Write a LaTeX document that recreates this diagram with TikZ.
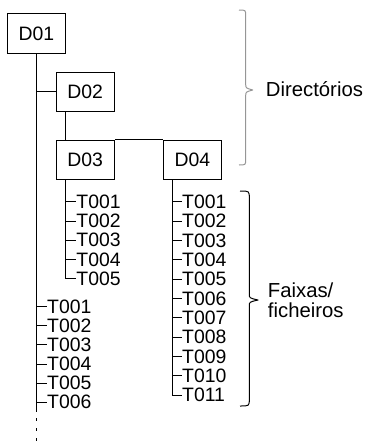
\documentclass[tikz,border=0pt]{standalone}
\usepackage{fontspec}
\setmainfont{Liberation Sans}
\begin{document}
\begin{tikzpicture}[x=1pt,y=-1pt, line width=0.9pt,
  txt/.style={font=\fontsize{19.4}{20}\selectfont},
  dirbox/.style={draw, txt, minimum width=58.5pt, minimum height=39.5pt, inner sep=0pt},
  item/.style={txt, anchor=west, inner sep=0pt},
  lbl/.style={font=\fontsize{20.3}{21}\selectfont, anchor=base west, inner sep=0pt},
  brace/.style={line width=1pt, line join=round}]
\useasboundingbox (0,0) rectangle (368,448);

\node[dirbox] (D01) at (36.5,33.5) {D01};
\node[dirbox] (D02) at (85.2,91.8) {D02};
\node[dirbox] (D03) at (85.2,160) {D03};
\node[dirbox] (D04) at (192.3,160) {D04};

% trunk of D01
\coordinate (trunkEnd) at (36.5,412);
\coordinate (dotStart) at (36.5,418);
\coordinate (trunkBottom) at (36.5,448);
\draw (D01.south) -- (trunkEnd);
\draw[dash pattern=on 3pt off 7pt] (dotStart) -- (trunkBottom);

\draw (D01.south |- D02.west) -- (D02.west);
\coordinate (s2) at ([xshift=10pt]D02.south west);
\coordinate (n3) at ([xshift=10pt]D03.north west);
\draw (s2) -- (n3);
\draw (D03.north east) -- (D04.north west);

% D03 tracks
\coordinate (s3) at ([xshift=10pt]D03.south west);
\foreach \k in {0,...,4} {
  \pgfmathtruncatemacro{\n}{\k+1}
  \node[item] (a\n) at (76, 201.7+19.3*\k) {T00\n};
}
\draw (s3) |- (a5.west);
\foreach \n in {1,...,4} \draw (s3 |- a\n.west) -- (a\n.west);

% D04 tracks
\coordinate (s4) at ([xshift=9.5pt]D04.south west);
\foreach \lab [count=\n from 1] in {T001,T002,T003,T004,T005,T006,T007,T008,T009,T010,T011} {
  \node[item] (b\n) at (181.7, 201.7+19.33*\n-19.33) {\lab};
}
\draw (s4) |- (b11.west);
\foreach \n in {1,...,10} \draw (s4 |- b\n.west) -- (b\n.west);

% D01 tracks
\foreach \k in {0,...,5} {
  \pgfmathtruncatemacro{\n}{\k+1}
  \node[item] (m\n) at (46.7, 306.7+19.1*\k) {T00\n};
}
\foreach \n in {1,...,6} \draw (D01.south |- m\n.west) -- (m\n.west);

% braces
\draw[brace, draw={rgb,255:red,150;green,150;blue,150}]
  (239,10) .. controls (245.7,10) .. (245.7,16) -- (245.7,84)
  .. controls (245.7,88) .. (252.7,90) .. controls (245.7,92) .. (245.7,96)
  -- (245.7,159) .. controls (245.7,165) .. (239,165);
\draw[brace]
  (240,191) .. controls (249.3,191) .. (249.3,198) -- (249.3,294)
  .. controls (249.3,298) .. (258,300) .. controls (249.3,302) .. (249.3,306)
  -- (249.3,399) .. controls (249.3,406) .. (240,406);

\node[lbl] (dir) at (265.5,96.7) {Directórios};
\node[lbl] (fx1) at (267.5,297.7) {Faixas/};
\node[lbl] (fx2) at (267.5,317.7) {ficheiros};
\end{tikzpicture}
\end{document}
